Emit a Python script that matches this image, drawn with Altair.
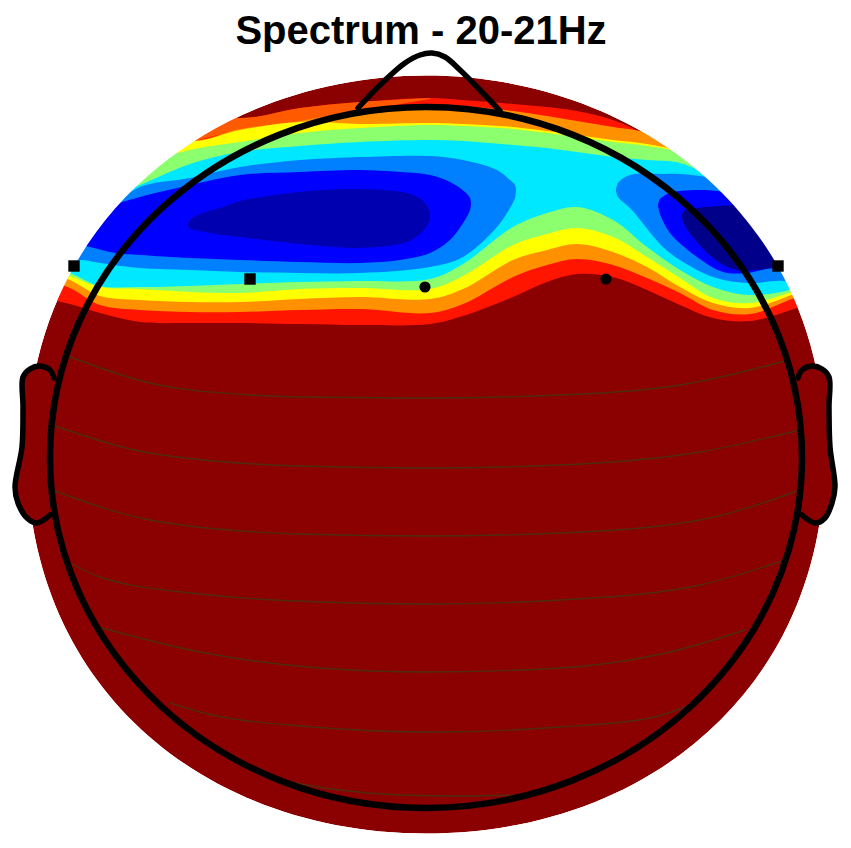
import altair as alt
import pandas as pd

TITLE = "Spectrum - 20-21Hz"
JET = {"darkred": "#8b0000", "red": "#ff1500", "deep": "#ff5a00", "orange": "#ff9000", "yellow": "#ffff00",
       "green": "#8cff6e", "cyan": "#00e8ff", "light": "#0080ff", "blue": "#0000ff", "navy": "#0000b0", "navy2": "#00008b"}

# contour levels: x stations, upper boundary, lower boundary
X = [20, 45, 70, 100, 140, 190, 240, 300, 360, 430, 463, 513, 547, 577, 613, 647, 680, 713, 750, 797, 835]
T_red = [60, 60, 60, 60, 75, 105, 118, 108, 102, 98, 100, 104, 107, 111, 120, 135, 150, 170, 190, 230, 260]
B_red = [290, 298, 304, 313, 322, 323, 323, 324, 325, 324, 316, 297, 282, 274, 277, 290, 305, 318, 321, 308, 295]
T_orange = [60, 60, 60, 80, 110, 140, 129, 121, 110, 105, 106, 111, 116, 121, 127, 133, 150, 170, 195, 235, 260]
B_orange = [275, 280, 288, 305, 310, 312, 312, 310, 309, 313, 304, 277, 265, 259, 265, 278, 293, 310, 314, 297, 285]
T_yellow = [60, 60, 60, 90, 120, 141, 130, 122, 124, 123, 124, 127, 131, 135, 140, 144, 152, 175, 200, 240, 265]
B_yellow = [268, 272, 280, 296, 300, 302, 302, 299, 297, 299, 289, 260, 250, 244, 252, 267, 287, 303, 308, 293, 280]
T_green = [255, 250, 220, 190, 165, 150, 142, 133, 128, 125, 126, 129, 133, 137, 142, 146, 153, 176, 201, 241, 266]
B_green = [265, 268, 276, 287, 289, 292, 293, 289, 288, 289, 276, 245, 234, 228, 237, 257, 278, 298, 303, 290, 275]
T_cyan = [260, 255, 225, 200, 185, 164, 152, 146, 142, 140, 141, 145, 148, 152, 157, 160, 163, 178, 203, 243, 268]
B_cyan = [262, 265, 273, 286, 287, 286, 284, 282, 281, 279, 264, 227, 213, 207, 220, 247, 270, 287, 295, 288, 270]

# deep orange stripe on the upper left
DEEP_X = [180, 240, 300, 360, 430]
DEEP_T = [105, 118, 108, 102, 98]
DEEP_B = [145, 130, 122, 111, 99]

# closed low-value blobs: x, top, bottom
LIGHT_L = ([20, 60, 82, 100, 140, 190, 240, 300, 360, 430, 463, 497, 510, 515, 516],
           [250, 245, 230, 215, 187, 178, 167, 160, 157, 156, 160, 170, 180, 185, 190],
           [262, 262, 260, 263, 268, 270, 272, 273, 273, 267, 257, 227, 208, 198, 191])
BLUE_L = ([20, 60, 90, 115, 140, 190, 240, 300, 360, 400, 430, 450, 465, 470, 471],
          [230, 230, 220, 205, 197, 185, 175, 172, 170, 172, 175, 182, 192, 198, 203],
          [240, 240, 247, 253, 255, 258, 260, 262, 263, 260, 253, 240, 220, 210, 204])
NAVY_L = ([188, 191, 200, 223, 240, 290, 323, 357, 407, 422, 428, 430],
          [224, 219, 214, 207, 201, 193, 190, 189, 193, 200, 208, 215],
          [226, 229, 231, 235, 237, 243, 246, 248, 242, 232, 224, 216])
LIGHT_R = ([616, 618, 630, 663, 680, 713, 747, 783, 800],
           [190, 183, 175, 174, 174, 178, 185, 200, 210],
           [191, 197, 208, 247, 260, 277, 283, 281, 285])
BLUE_R = ([658, 660, 670, 697, 723, 747, 773, 800],
          [205, 199, 193, 190, 192, 200, 220, 230],
          [206, 214, 233, 257, 272, 273, 268, 268])
NAVY_R = ([682, 684, 697, 717, 737, 773, 790],
          [215, 211, 208, 206, 205, 205, 205],
          [216, 224, 242, 261, 270, 268, 266])

# thin contour lines in the lower head
LINES = [
    ([70, 150, 250, 300, 425, 560, 680, 785], [357, 383, 395, 397, 398, 395, 385, 361]),
    ([55, 150, 300, 425, 560, 700, 800], [426, 453, 466, 468, 465, 452, 430]),
    ([55, 150, 300, 425, 560, 700, 800], [491, 520, 534, 536, 533, 520, 490]),
    ([68, 100, 200, 320, 425, 560, 700, 785], [562, 577, 594, 602, 604, 600, 585, 560]),
    ([102, 200, 320, 425, 560, 670, 745], [628, 652, 668, 672, 668, 652, 630]),
    ([170, 200, 300, 433, 560, 650, 690], [703, 712, 726, 732, 727, 718, 705]),
    ([290, 340, 400, 460, 520], [782, 790, 795, 796, 795]),
]

EAR_Y = [366, 372, 380, 407, 447, 470, 487, 503, 518, 523]
EAR_L_OUT = [38, 28, 23, 23, 22, 18, 15, 18, 27, 37]
EAR_L_IN = [48, 55, 55, 55, 55, 55, 55, 55, 55, 42]
EAR_R_OUT = [814, 824, 829, 829, 830, 833, 835, 832, 825, 815]
EAR_R_IN = [804, 797, 797, 797, 797, 797, 797, 797, 797, 810]
EAR_L_LINE = ([54, 50, 40, 30, 23, 23, 22, 15, 18, 27, 37, 50], [378, 370, 366, 369, 377, 407, 447, 487, 503, 518, 523, 515])
EAR_R_LINE = ([798, 802, 812, 822, 829, 829, 830, 835, 832, 825, 815, 802], [378, 370, 366, 369, 377, 407, 447, 487, 503, 518, 523, 515])
NOSE_X = [358, 380, 405, 420, 432, 445, 460, 480, 500]
NOSE_Y = [108, 85, 63, 55, 53, 57, 70, 90, 111]

SQUARES = ([74, 250, 778], [266, 279, 266])
CIRCLES = ([425, 606], [287, 279])

x_enc = alt.X("x:Q", scale=alt.Scale(domain=[8, 843]), axis=None)
y_enc = alt.Y("y:Q", scale=alt.Scale(domain=[840, 8]), axis=None)


def band(xs, top, bottom, color):
    df = pd.DataFrame({"x": xs, "y": top, "y2": bottom})
    return alt.Chart(df).mark_area(interpolate="catmull-rom", color=color, opacity=1).encode(
        x=x_enc, y=y_enc, y2="y2:Q")


def path_line(xs, ys, color, width, interp="catmull-rom", opacity=1.0):
    df = pd.DataFrame({"x": xs, "y": ys, "o": list(range(len(xs)))})
    return alt.Chart(df).mark_line(interpolate=interp, color=color, strokeWidth=width, opacity=opacity,
                                   strokeCap="round", strokeJoin="round").encode(
        x=x_enc, y=y_enc, order="o:Q")


def ear(out, inner):
    df = pd.DataFrame({"y": EAR_Y, "x": out, "x2": inner})
    return alt.Chart(df).mark_area(orient="horizontal", interpolate="monotone", color=JET["darkred"], opacity=1).encode(
        y=y_enc, x=x_enc, x2="x2:Q")


DISK = "M-1,0C-1,-.6175,-.5,-.95,0,-.95C.5,-.95,1,-.6175,1,0C1,.589,.55,.95,0,.95C-.55,.95,-1,.589,-1,0Z"
MASK = "M-1.25,-1.25V1.25H1.25V-1.25Z" + DISK
HEAD = "M-1,0A1,.932,0,1,1,1,0A1,.932,0,1,1,-1,0Z"
centre = pd.DataFrame({"x": [426], "y": [454.5]})
head_c = pd.DataFrame({"x": [426], "y": [457.5]})


def blob_pt(data, path, size, **kw):
    return alt.Chart(data).mark_point(shape=path, size=size, opacity=1, **kw).encode(x=x_enc, y=y_enc)


layers = [blob_pt(centre, DISK, 636804, filled=True, fill=JET["darkred"], strokeWidth=0)]
layers += [
    band(X, T_red, B_red, JET["red"]),
    band(DEEP_X, DEEP_T, DEEP_B, JET["deep"]),
    band(X, T_orange, B_orange, JET["orange"]),
    band(X, T_yellow, B_yellow, JET["yellow"]),
    band(X, T_green, B_green, JET["green"]),
    band(X, T_cyan, B_cyan, JET["cyan"]),
    band(*LIGHT_L, JET["light"]),
    band(*BLUE_L, JET["blue"]),
    band(*NAVY_L, JET["navy"]),
    band(*LIGHT_R, JET["light"]),
    band(*BLUE_R, JET["blue"]),
    band(*NAVY_R, JET["navy2"]),
]
layers.append(blob_pt(centre, MASK, 636804, filled=True, fill="white", strokeWidth=0))
layers += [ear(EAR_L_OUT, EAR_L_IN), ear(EAR_R_OUT, EAR_R_IN)]
layers += [path_line(lx, ly, "#4f2c10", 1.4, "monotone", 1.0) for lx, ly in LINES]
layers += [
    path_line(*EAR_L_LINE, "black", 5.5),
    path_line(*EAR_R_LINE, "black", 5.5),
    path_line(NOSE_X, NOSE_Y, "black", 5.5),
    blob_pt(head_c, HEAD, 565504, filled=False, color="black", strokeWidth=6.5),
]
sq = pd.DataFrame({"x": SQUARES[0], "y": SQUARES[1]})
ci = pd.DataFrame({"x": CIRCLES[0], "y": CIRCLES[1]})
layers += [
    alt.Chart(sq).mark_square(size=130, color="black", opacity=1).encode(x=x_enc, y=y_enc),
    alt.Chart(ci).mark_circle(size=125, color="black", opacity=1).encode(x=x_enc, y=y_enc),
]
title_df = pd.DataFrame({"x": [421], "y": [44], "t": [TITLE]})
layers.append(alt.Chart(title_df).mark_text(font="Liberation Sans", fontWeight="bold", fontSize=40, color="black",
                                            align="center", baseline="alphabetic").encode(x=x_enc, y=y_enc, text="t:N"))

chart = alt.layer(*layers).properties(
    width=835, height=832, padding=0, autosize=alt.AutoSizeParams(type="none"), background="white"
).configure_view(stroke=None)

chart.save("out.html", embed_options={"renderer": "svg", "actions": False})
